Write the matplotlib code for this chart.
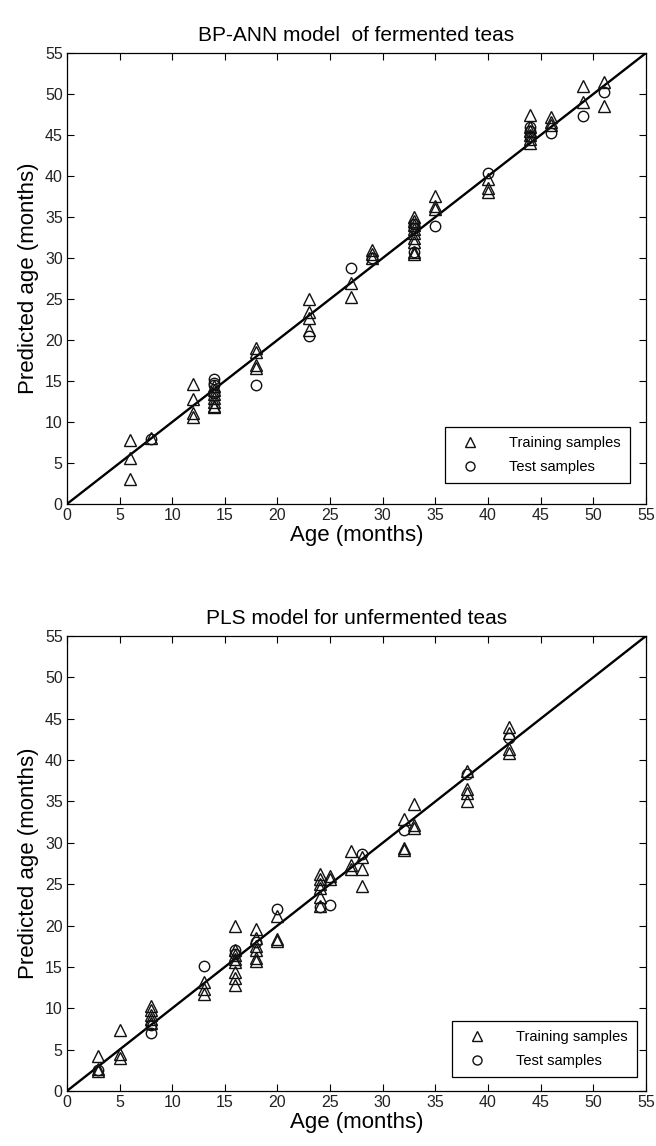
import numpy as np
import matplotlib
matplotlib.use("Agg")
import matplotlib.pyplot as plt

plt.rcParams['font.family'] = ['Liberation Sans', 'DejaVu Sans']

# BP-ANN, fermented teas: (actual age, predicted age)
ann_train_x = [6, 6, 6, 8,
               12, 12, 12, 12,
               14, 14, 14, 14, 14, 14, 14,
               18, 18, 18, 18,
               23, 23, 23, 23,
               27, 27,
               29, 29, 29,
               33, 33, 33, 33, 33, 33, 33, 33, 33,
               35, 35, 35,
               40, 40, 40,
               44, 44, 44, 44, 44, 44,
               46, 46, 46,
               49, 49,
               51, 51]
ann_train_y = [7.8, 5.6, 3.0, 8.0,
               14.6, 12.8, 11.1, 10.6,
               14.4, 13.9, 13.4, 12.9, 12.4, 12.0, 11.8,
               19.0, 18.5, 17.0, 16.6,
               25.0, 23.4, 22.7, 21.2,
               27.0, 25.2,
               31.0, 30.5, 30.0,
               35.0, 34.5, 34.0, 33.5, 33.0, 32.5, 32.0, 30.7, 30.5,
               37.6, 36.3, 36.0,
               39.7, 38.6, 38.0,
               47.4, 46.0, 45.5, 45.0, 44.5, 44.0,
               47.2, 46.6, 46.2,
               51.0, 49.0,
               51.5, 48.5]
ann_test_x = [8, 14, 14, 14, 14, 18, 23, 27, 29, 33, 33, 33, 35, 40,
              44, 44, 44, 46, 49, 51]
ann_test_y = [7.9, 15.2, 14.8, 14.5, 13.6, 14.5, 20.5, 28.8, 30.0, 34.2, 33.7, 30.7, 33.9, 40.4,
              46.0, 45.5, 44.9, 45.2, 47.3, 50.3]

# PLS, unfermented teas
pls_train_x = [3, 3, 3,
               5, 5, 5,
               8, 8, 8, 8, 8,
               13, 13, 13,
               16, 16, 16, 16, 16, 16, 16, 16,
               18, 18, 18, 18, 18, 18,
               20, 20, 20,
               24, 24, 24, 24, 24, 24,
               25, 25,
               27, 27, 27,
               28, 28, 28,
               32, 32, 32,
               33, 33, 33,
               38, 38, 38, 38,
               42, 42, 42, 42]
pls_train_y = [4.2, 2.6, 2.4,
               7.4, 4.5, 4.0,
               10.3, 9.8, 9.2, 8.7, 8.2,
               13.2, 12.3, 11.7,
               19.9, 17.0, 16.5, 16.0, 15.6, 14.4, 13.6, 12.8,
               19.6, 18.5, 17.5, 17.0, 16.1, 15.7,
               21.2, 18.4, 18.1,
               26.2, 25.6, 25.0, 24.5, 23.5, 22.4,
               26.0, 25.6,
               29.0, 27.3, 26.8,
               28.3, 26.8, 24.8,
               32.9, 29.4, 29.1,
               34.7, 32.2, 31.8,
               38.7, 36.5, 36.0, 35.0,
               44.0, 43.3, 41.4, 40.9]
pls_test_x = [3, 8, 8, 13, 16, 16, 18, 20, 24, 25, 28, 32, 38, 42]
pls_test_y = [2.5, 7.0, 8.0, 15.1, 17.1, 16.6, 18.0, 22.0, 22.2, 22.5, 28.6, 31.6, 38.3, 42.7]

ticks = np.arange(0, 56, 5)
tick_font = ['Liberation Sans Narrow', 'Liberation Sans', 'DejaVu Sans']

fig = plt.figure(figsize=(6.56, 11.46), dpi=100)
ax1 = fig.add_axes([0.102, 0.5602, 0.8826, 0.3935])
ax2 = fig.add_axes([0.102, 0.048, 0.8826, 0.397])


def draw(ax, tx, ty, sx, sy, title, leg_anchor):
    ax.plot([0, 55], [0, 55], color='black', lw=1.7, zorder=1)
    ax.plot(tx, ty, linestyle='none', marker='^', ms=8, mfc='none',
            mec='#111111', mew=1.0, label='Training samples', zorder=2)
    ax.plot(sx, sy, linestyle='none', marker='o', ms=7.5, mfc='none',
            mec='#111111', mew=1.0, label='Test samples', zorder=2)
    ax.set_xlim(0, 55)
    ax.set_ylim(0, 55)
    ax.set_xticks(ticks)
    ax.set_yticks(ticks)
    ax.tick_params(direction='in', top=True, right=True, length=5, width=0.8,
                   labelsize=11.5, pad=3)
    for lab in ax.get_xticklabels() + ax.get_yticklabels():
        lab.set_family(tick_font)
        lab.set_color('#222222')
    for s in ax.spines.values():
        s.set_linewidth(0.9)
    ax.set_xlabel('Age (months)', fontsize=16, labelpad=1)
    ax.set_ylabel('Predicted age (months)', fontsize=16, labelpad=4)
    ax.set_title(title, fontsize=15, pad=9)
    leg = ax.legend(loc='lower right', bbox_to_anchor=leg_anchor, borderaxespad=0,
                    fontsize=10.5, frameon=True, fancybox=False, framealpha=1,
                    edgecolor='black', handlelength=2.2, handletextpad=1.6,
                    borderpad=0.6, labelspacing=0.7)
    leg.get_frame().set_linewidth(0.9)
    for h in leg.get_lines():
        h.set_markersize(6.5)


draw(ax1, ann_train_x, ann_train_y, ann_test_x, ann_test_y,
     'BP-ANN model  of fermented teas', (0.972, 0.047))
draw(ax2, pls_train_x, pls_train_y, pls_test_x, pls_test_y,
     'PLS model for unfermented teas', (0.984, 0.031))

fig.savefig('out.png', dpi=100)
